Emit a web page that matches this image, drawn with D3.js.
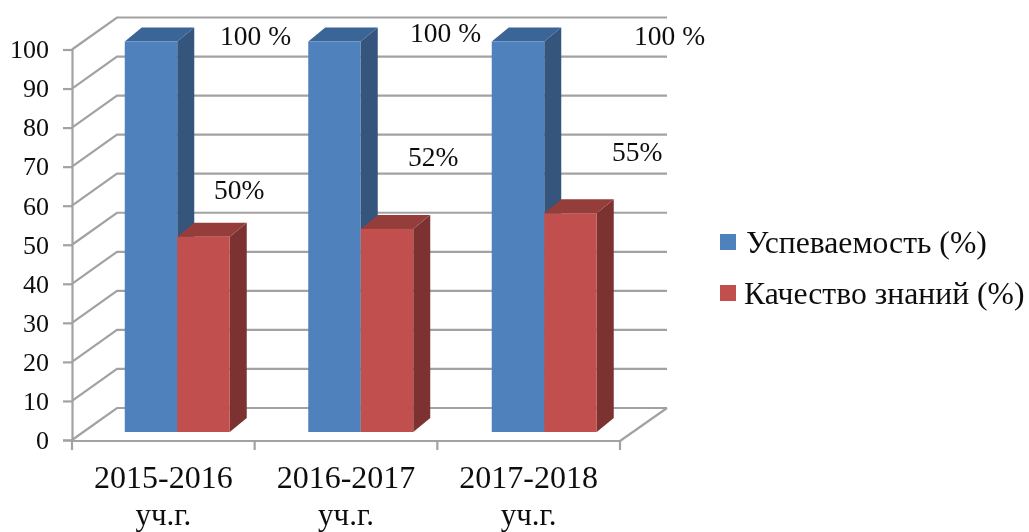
<!DOCTYPE html>
<html>
<head>
<meta charset="utf-8">
<script src="https://cdn.jsdelivr.net/npm/d3@7"></script>
<style>
  html, body { margin: 0; padding: 0; background: #fff; }
  svg { display: block; }
  text { font-family: "Liberation Serif", serif; fill: #111; }
</style>
</head>
<body>
<svg id="chart" width="1029" height="532"></svg>
<script>
const categories = ["2015-2016", "2016-2017", "2017-2018"];
const categorySuffix = "уч.г.";
const seriesNames = ["Успеваемость (%)", "Качество знаний (%)"];
const uspevaemost = [100, 100, 100];
const kachestvo = [50, 52, 56];
const yTicks = [0, 10, 20, 30, 40, 50, 60, 70, 80, 90, 100];

// data labels were placed by hand in the original, so they sit apart from the bars
const labelTexts = ["100 %", "100 %", "100 %", "50%", "52%", "55%"];
const labelX = [220, 410, 634, 214, 408, 612];
const labelY = [45, 42, 45, 199, 166, 161];

const colors = [
  { front: "#4f81bd", side: "#34547c", top: "#3b6596" },
  { front: "#c0504d", side: "#7d3230", top: "#953e3b" }
];

const svg = d3.select("#chart");

// slight softening, the reference is an upscaled screenshot
svg.append("defs").append("filter").attr("id", "soft")
  .append("feGaussianBlur").attr("stdDeviation", 0.7);

const root = svg.append("g").attr("filter", "url(#soft)");

const plotLeft = 72, plotRight = 620, plotTop = 49.5, plotBottom = 440;
const wallDx = 45, wallDy = -32;
const barInsetDy = -8, barDepthX = 17, barDepthY = -14;

const y = d3.scaleLinear().domain([0, 100]).range([plotBottom, plotTop]);
const x = d3.scaleBand().domain(categories).range([plotLeft, plotRight]);
const xBars = d3.scaleBand().domain(categories).range([85.5, 636]);
const xSeries = d3.scaleBand().domain([0, 1]).range([0, 105]);

// grid: diagonal on the side wall, then flat along the back wall
const gridColor = "#a2a2a2";
root.append("g").selectAll("path").data(yTicks).enter().append("path")
  .attr("d", d => `M${plotLeft},${y(d)}L${plotLeft + wallDx},${y(d) + wallDy}L${plotRight + wallDx + 2},${y(d) + wallDy}`)
  .attr("fill", "none")
  .attr("stroke", gridColor)
  .attr("stroke-width", 2.2);

// floor edge on the right
root.append("path")
  .attr("d", `M${plotRight},${y(0) + 1}L${plotRight + wallDx + 2},${y(0) + wallDy}`)
  .attr("fill", "none")
  .attr("stroke", gridColor)
  .attr("stroke-width", 2.2);

// y axis
const yAxis = root.append("g")
  .attr("transform", `translate(${plotLeft},0)`)
  .call(d3.axisLeft(y).tickValues(yTicks).tickSize(9).tickPadding(14));
yAxis.select(".domain").attr("stroke", gridColor).attr("stroke-width", 2.2);
yAxis.selectAll(".tick line").attr("stroke", gridColor).attr("stroke-width", 2.2);
yAxis.selectAll(".tick text")
  .style("font-size", "26px")
  .style("font-family", "'Liberation Serif', serif")
  .attr("fill", "#111");

// x axis, ticks fall on the category boundaries
const xAxis = root.append("g")
  .attr("transform", `translate(0,${plotBottom + 1})`)
  .call(d3.axisBottom(x).tickSize(0).tickPadding(26));
xAxis.select(".domain").remove();
root.append("line")
  .attr("x1", plotLeft).attr("x2", plotRight)
  .attr("y1", plotBottom + 1).attr("y2", plotBottom + 1)
  .attr("stroke", gridColor).attr("stroke-width", 2.2);
root.append("g").selectAll("line")
  .data(categories.concat(["end"])).enter().append("line")
  .attr("x1", (d, i) => plotLeft + i * x.step())
  .attr("x2", (d, i) => plotLeft + i * x.step())
  .attr("y1", plotBottom)
  .attr("y2", plotBottom + 10)
  .attr("stroke", gridColor)
  .attr("stroke-width", 2.2);

xAxis.selectAll(".tick text").each(function(d) {
  const t = d3.select(this).text(null)
    .attr("y", null).attr("dy", null)
    .attr("fill", "#111")
    .style("font-family", "'Liberation Serif', serif");
  t.append("tspan").attr("x", 0).attr("y", 47).style("font-size", "32px").text(d);
  t.append("tspan").attr("x", 0).attr("y", 84).style("font-size", "31px").text(categorySuffix);
});

// bars: side and top faces first, then the front
[uspevaemost, kachestvo].forEach((values, s) => {
  const g = root.append("g");
  const bars = g.selectAll("g").data(values).enter().append("g");
  const x0 = (d, i) => xBars(categories[i]) + (xBars.bandwidth() - xSeries.range()[1]) / 2 + xSeries(s);
  const x1 = (d, i) => x0(d, i) + xSeries.bandwidth();
  const base = y(0) + barInsetDy;

  bars.append("path")
    .attr("fill", colors[s].side)
    .attr("d", (d, i) => `M${x1(d, i)},${base}L${x1(d, i) + barDepthX},${base + barDepthY}L${x1(d, i) + barDepthX},${y(d) + barInsetDy + barDepthY}L${x1(d, i)},${y(d) + barInsetDy}Z`);
  bars.append("path")
    .attr("fill", colors[s].top)
    .attr("d", (d, i) => `M${x0(d, i)},${y(d) + barInsetDy}L${x0(d, i) + barDepthX},${y(d) + barInsetDy + barDepthY}L${x1(d, i) + barDepthX},${y(d) + barInsetDy + barDepthY}L${x1(d, i)},${y(d) + barInsetDy}Z`);
  bars.append("rect")
    .attr("fill", colors[s].front)
    .attr("x", x0)
    .attr("width", xSeries.bandwidth())
    .attr("y", d => y(d) + barInsetDy)
    .attr("height", d => base - (y(d) + barInsetDy));
});

// data labels
root.append("g").selectAll("text").data(labelTexts).enter().append("text")
  .attr("x", (d, i) => labelX[i])
  .attr("y", (d, i) => labelY[i])
  .style("font-size", "27.5px")
  .text(d => d);

// legend
const legend = root.append("g").selectAll("g").data(seriesNames).enter().append("g")
  .attr("transform", (d, i) => `translate(720,${234 + i * 51})`);
legend.append("rect")
  .attr("width", 16).attr("height", 16)
  .attr("fill", (d, i) => colors[i].front);
legend.append("text")
  .attr("x", (d, i) => i ? 24 : 26)
  .attr("y", 18.5)
  .style("font-size", "31.7px")
  .text(d => d);
</script>
</body>
</html>
